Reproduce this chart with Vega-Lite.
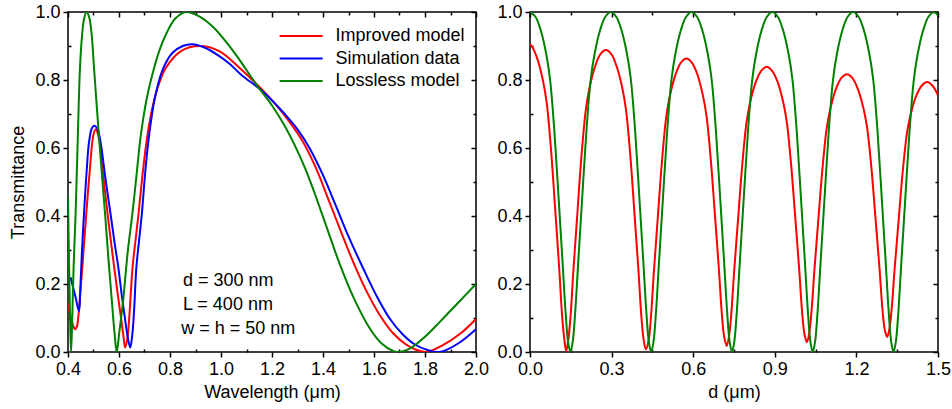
{
  "$schema": "https://vega.github.io/schema/vega-lite/v6.json",
  "padding": {"left": 9, "top": 2, "right": 0, "bottom": 0},
  "config": {
    "font": "Liberation Sans",
    "view": {"stroke": "black", "strokeWidth": 1.5},
    "axis": {"grid": false, "domain": false, "tickColor": "black", "tickWidth": 1.5, "labelColor": "black", "labelFont": "Liberation Sans", "labelFontSize": 18, "titleFont": "Liberation Sans", "titleFontSize": 18, "titleFontWeight": "normal", "titleColor": "black", "labelOverlap": false, "labelFlush": false, "labelBound": false}
  },
  "datasets": {
    "left": [
      {"wl":0.400,"T":0.145,"series":"Improved model"},{"wl":0.410,"T":0.105,"series":"Improved model"},{"wl":0.420,"T":0.078,"series":"Improved model"},{"wl":0.427,"T":0.067,"series":"Improved model"},{"wl":0.435,"T":0.075,"series":"Improved model"},{"wl":0.440,"T":0.10,"series":"Improved model"},{"wl":0.448,"T":0.17,"series":"Improved model"},{"wl":0.456,"T":0.248,"series":"Improved model"},{"wl":0.464,"T":0.33,"series":"Improved model"},{"wl":0.472,"T":0.41,"series":"Improved model"},{"wl":0.485,"T":0.53,"series":"Improved model"},{"wl":0.500,"T":0.64,"series":"Improved model"},{"wl":0.509,"T":0.655,"series":"Improved model"},{"wl":0.522,"T":0.625,"series":"Improved model"},{"wl":0.535,"T":0.54,"series":"Improved model"},{"wl":0.550,"T":0.44,"series":"Improved model"},{"wl":0.565,"T":0.345,"series":"Improved model"},{"wl":0.581,"T":0.25,"series":"Improved model"},{"wl":0.595,"T":0.17,"series":"Improved model"},{"wl":0.608,"T":0.10,"series":"Improved model"},{"wl":0.617,"T":0.05,"series":"Improved model"},{"wl":0.624,"T":0.013,"series":"Improved model"},{"wl":0.632,"T":0.035,"series":"Improved model"},{"wl":0.640,"T":0.10,"series":"Improved model"},{"wl":0.653,"T":0.248,"series":"Improved model"},{"wl":0.665,"T":0.33,"series":"Improved model"},{"wl":0.677,"T":0.41,"series":"Improved model"},{"wl":0.695,"T":0.54,"series":"Improved model"},{"wl":0.712,"T":0.64,"series":"Improved model"},{"wl":0.733,"T":0.725,"series":"Improved model"},{"wl":0.755,"T":0.785,"series":"Improved model"},{"wl":0.784,"T":0.836,"series":"Improved model"},{"wl":0.843,"T":0.885,"series":"Improved model"},{"wl":0.915,"T":0.90,"series":"Improved model"},{"wl":0.993,"T":0.885,"series":"Improved model"},{"wl":1.072,"T":0.836,"series":"Improved model"},{"wl":1.15,"T":0.78,"series":"Improved model"},{"wl":1.20,"T":0.74,"series":"Improved model"},{"wl":1.25,"T":0.695,"series":"Improved model"},{"wl":1.32,"T":0.62,"series":"Improved model"},{"wl":1.37,"T":0.545,"series":"Improved model"},{"wl":1.418,"T":0.455,"series":"Improved model"},{"wl":1.47,"T":0.355,"series":"Improved model"},{"wl":1.524,"T":0.255,"series":"Improved model"},{"wl":1.58,"T":0.165,"series":"Improved model"},{"wl":1.63,"T":0.10,"series":"Improved model"},{"wl":1.675,"T":0.055,"series":"Improved model"},{"wl":1.72,"T":0.025,"series":"Improved model"},{"wl":1.76,"T":0.008,"series":"Improved model"},{"wl":1.806,"T":0.0,"series":"Improved model"},{"wl":1.87,"T":0.02,"series":"Improved model"},{"wl":1.94,"T":0.055,"series":"Improved model"},{"wl":2.00,"T":0.097,"series":"Improved model"},
      {"wl":0.410,"T":0.22,"series":"Simulation data"},{"wl":0.420,"T":0.19,"series":"Simulation data"},{"wl":0.430,"T":0.16,"series":"Simulation data"},{"wl":0.443,"T":0.12,"series":"Simulation data"},{"wl":0.448,"T":0.18,"series":"Simulation data"},{"wl":0.455,"T":0.30,"series":"Simulation data"},{"wl":0.463,"T":0.41,"series":"Simulation data"},{"wl":0.473,"T":0.53,"series":"Simulation data"},{"wl":0.483,"T":0.62,"series":"Simulation data"},{"wl":0.495,"T":0.66,"series":"Simulation data"},{"wl":0.506,"T":0.665,"series":"Simulation data"},{"wl":0.516,"T":0.655,"series":"Simulation data"},{"wl":0.526,"T":0.625,"series":"Simulation data"},{"wl":0.547,"T":0.51,"series":"Simulation data"},{"wl":0.568,"T":0.40,"series":"Simulation data"},{"wl":0.583,"T":0.32,"series":"Simulation data"},{"wl":0.598,"T":0.245,"series":"Simulation data"},{"wl":0.612,"T":0.16,"series":"Simulation data"},{"wl":0.624,"T":0.095,"series":"Simulation data"},{"wl":0.635,"T":0.04,"series":"Simulation data"},{"wl":0.644,"T":0.013,"series":"Simulation data"},{"wl":0.652,"T":0.05,"series":"Simulation data"},{"wl":0.659,"T":0.12,"series":"Simulation data"},{"wl":0.668,"T":0.248,"series":"Simulation data"},{"wl":0.679,"T":0.33,"series":"Simulation data"},{"wl":0.690,"T":0.41,"series":"Simulation data"},{"wl":0.703,"T":0.53,"series":"Simulation data"},{"wl":0.716,"T":0.625,"series":"Simulation data"},{"wl":0.740,"T":0.745,"series":"Simulation data"},{"wl":0.771,"T":0.83,"series":"Simulation data"},{"wl":0.810,"T":0.88,"series":"Simulation data"},{"wl":0.850,"T":0.90,"series":"Simulation data"},{"wl":0.888,"T":0.905,"series":"Simulation data"},{"wl":0.930,"T":0.897,"series":"Simulation data"},{"wl":0.980,"T":0.877,"series":"Simulation data"},{"wl":1.030,"T":0.85,"series":"Simulation data"},{"wl":1.080,"T":0.815,"series":"Simulation data"},{"wl":1.150,"T":0.775,"series":"Simulation data"},{"wl":1.20,"T":0.74,"series":"Simulation data"},{"wl":1.25,"T":0.70,"series":"Simulation data"},{"wl":1.30,"T":0.655,"series":"Simulation data"},{"wl":1.347,"T":0.60,"series":"Simulation data"},{"wl":1.40,"T":0.52,"series":"Simulation data"},{"wl":1.445,"T":0.44,"series":"Simulation data"},{"wl":1.50,"T":0.34,"series":"Simulation data"},{"wl":1.555,"T":0.25,"series":"Simulation data"},{"wl":1.61,"T":0.165,"series":"Simulation data"},{"wl":1.66,"T":0.10,"series":"Simulation data"},{"wl":1.712,"T":0.052,"series":"Simulation data"},{"wl":1.76,"T":0.022,"series":"Simulation data"},{"wl":1.81,"T":0.006,"series":"Simulation data"},{"wl":1.858,"T":0.0,"series":"Simulation data"},{"wl":1.93,"T":0.025,"series":"Simulation data"},{"wl":2.00,"T":0.067,"series":"Simulation data"},
      {"wl":0.400,"T":0.46,"series":"Lossless model"},{"wl":0.405,"T":0.22,"series":"Lossless model"},{"wl":0.409,"T":0.07,"series":"Lossless model"},{"wl":0.412,"T":0.0,"series":"Lossless model"},{"wl":0.416,"T":0.08,"series":"Lossless model"},{"wl":0.422,"T":0.25,"series":"Lossless model"},{"wl":0.430,"T":0.41,"series":"Lossless model"},{"wl":0.438,"T":0.62,"series":"Lossless model"},{"wl":0.447,"T":0.836,"series":"Lossless model"},{"wl":0.455,"T":0.93,"series":"Lossless model"},{"wl":0.463,"T":0.98,"series":"Lossless model"},{"wl":0.473,"T":1.0,"series":"Lossless model"},{"wl":0.483,"T":0.985,"series":"Lossless model"},{"wl":0.492,"T":0.94,"series":"Lossless model"},{"wl":0.502,"T":0.836,"series":"Lossless model"},{"wl":0.515,"T":0.70,"series":"Lossless model"},{"wl":0.530,"T":0.55,"series":"Lossless model"},{"wl":0.545,"T":0.41,"series":"Lossless model"},{"wl":0.560,"T":0.26,"series":"Lossless model"},{"wl":0.572,"T":0.15,"series":"Lossless model"},{"wl":0.582,"T":0.06,"series":"Lossless model"},{"wl":0.591,"T":0.0,"series":"Lossless model"},{"wl":0.600,"T":0.05,"series":"Lossless model"},{"wl":0.608,"T":0.10,"series":"Lossless model"},{"wl":0.616,"T":0.15,"series":"Lossless model"},{"wl":0.635,"T":0.30,"series":"Lossless model"},{"wl":0.653,"T":0.41,"series":"Lossless model"},{"wl":0.670,"T":0.53,"series":"Lossless model"},{"wl":0.686,"T":0.64,"series":"Lossless model"},{"wl":0.710,"T":0.75,"series":"Lossless model"},{"wl":0.738,"T":0.836,"series":"Lossless model"},{"wl":0.760,"T":0.89,"series":"Lossless model"},{"wl":0.784,"T":0.934,"series":"Lossless model"},{"wl":0.820,"T":0.98,"series":"Lossless model"},{"wl":0.862,"T":1.0,"series":"Lossless model"},{"wl":0.920,"T":0.985,"series":"Lossless model"},{"wl":0.970,"T":0.955,"series":"Lossless model"},{"wl":1.02,"T":0.912,"series":"Lossless model"},{"wl":1.07,"T":0.862,"series":"Lossless model"},{"wl":1.11,"T":0.818,"series":"Lossless model"},{"wl":1.15,"T":0.775,"series":"Lossless model"},{"wl":1.20,"T":0.725,"series":"Lossless model"},{"wl":1.25,"T":0.665,"series":"Lossless model"},{"wl":1.288,"T":0.61,"series":"Lossless model"},{"wl":1.33,"T":0.54,"series":"Lossless model"},{"wl":1.373,"T":0.455,"series":"Lossless model"},{"wl":1.42,"T":0.355,"series":"Lossless model"},{"wl":1.465,"T":0.26,"series":"Lossless model"},{"wl":1.52,"T":0.16,"series":"Lossless model"},{"wl":1.583,"T":0.07,"series":"Lossless model"},{"wl":1.63,"T":0.025,"series":"Lossless model"},{"wl":1.675,"T":0.003,"series":"Lossless model"},{"wl":1.69,"T":0.0,"series":"Lossless model"},{"wl":1.74,"T":0.01,"series":"Lossless model"},{"wl":1.80,"T":0.045,"series":"Lossless model"},{"wl":1.86,"T":0.09,"series":"Lossless model"},{"wl":1.93,"T":0.145,"series":"Lossless model"},{"wl":2.00,"T":0.20,"series":"Lossless model"}
    ],
    "notes": [
      {"wl":0.851,"T":0.209,"label":"d = 300 nm"},
      {"wl":0.851,"T":0.138,"label":"L = 400 nm"},
      {"wl":0.844,"T":0.068,"label":"w = h = 50 nm"}
    ],
    "right": [
      {"d":0,"T":0.905,"series":"Improved model"},{"d":0.008,"T":0.898,"series":"Improved model"},{"d":0.028,"T":0.860,"series":"Improved model"},{"d":0.048,"T":0.797,"series":"Improved model"},{"d":0.062,"T":0.729,"series":"Improved model"},{"d":0.078,"T":0.588,"series":"Improved model"},{"d":0.093,"T":0.415,"series":"Improved model"},{"d":0.108,"T":0.239,"series":"Improved model"},{"d":0.118,"T":0.107,"series":"Improved model"},{"d":0.127,"T":0.032,"series":"Improved model"},{"d":0.133,"T":0.003,"series":"Improved model"},
      {"d":0.140,"T":0.030,"series":"Improved model"},{"d":0.149,"T":0.104,"series":"Improved model"},{"d":0.159,"T":0.233,"series":"Improved model"},{"d":0.174,"T":0.406,"series":"Improved model"},{"d":0.189,"T":0.574,"series":"Improved model"},{"d":0.205,"T":0.711,"series":"Improved model"},{"d":0.219,"T":0.778,"series":"Improved model"},{"d":0.239,"T":0.839,"series":"Improved model"},{"d":0.259,"T":0.876,"series":"Improved model"},{"d":0.279,"T":0.888,"series":"Improved model"},
      {"d":0.299,"T":0.876,"series":"Improved model"},{"d":0.319,"T":0.839,"series":"Improved model"},{"d":0.339,"T":0.778,"series":"Improved model"},{"d":0.353,"T":0.712,"series":"Improved model"},{"d":0.369,"T":0.576,"series":"Improved model"},{"d":0.384,"T":0.408,"series":"Improved model"},{"d":0.399,"T":0.237,"series":"Improved model"},{"d":0.409,"T":0.109,"series":"Improved model"},{"d":0.418,"T":0.035,"series":"Improved model"},{"d":0.426,"T":0.008,"series":"Improved model"},
      {"d":0.436,"T":0.034,"series":"Improved model"},{"d":0.445,"T":0.106,"series":"Improved model"},{"d":0.455,"T":0.230,"series":"Improved model"},{"d":0.470,"T":0.397,"series":"Improved model"},{"d":0.485,"T":0.559,"series":"Improved model"},{"d":0.501,"T":0.692,"series":"Improved model"},{"d":0.515,"T":0.756,"series":"Improved model"},{"d":0.535,"T":0.816,"series":"Improved model"},{"d":0.555,"T":0.851,"series":"Improved model"},{"d":0.575,"T":0.863,"series":"Improved model"},
      {"d":0.595,"T":0.851,"series":"Improved model"},{"d":0.615,"T":0.817,"series":"Improved model"},{"d":0.635,"T":0.757,"series":"Improved model"},{"d":0.649,"T":0.694,"series":"Improved model"},{"d":0.665,"T":0.563,"series":"Improved model"},{"d":0.680,"T":0.402,"series":"Improved model"},{"d":0.695,"T":0.238,"series":"Improved model"},{"d":0.705,"T":0.115,"series":"Improved model"},{"d":0.714,"T":0.044,"series":"Improved model"},{"d":0.723,"T":0.018,"series":"Improved model"},
      {"d":0.731,"T":0.043,"series":"Improved model"},{"d":0.740,"T":0.112,"series":"Improved model"},{"d":0.750,"T":0.231,"series":"Improved model"},{"d":0.765,"T":0.391,"series":"Improved model"},{"d":0.780,"T":0.547,"series":"Improved model"},{"d":0.796,"T":0.675,"series":"Improved model"},{"d":0.810,"T":0.737,"series":"Improved model"},{"d":0.830,"T":0.794,"series":"Improved model"},{"d":0.850,"T":0.827,"series":"Improved model"},{"d":0.870,"T":0.839,"series":"Improved model"},
      {"d":0.890,"T":0.827,"series":"Improved model"},{"d":0.910,"T":0.795,"series":"Improved model"},{"d":0.930,"T":0.738,"series":"Improved model"},{"d":0.944,"T":0.677,"series":"Improved model"},{"d":0.960,"T":0.551,"series":"Improved model"},{"d":0.975,"T":0.398,"series":"Improved model"},{"d":0.990,"T":0.240,"series":"Improved model"},{"d":1.000,"T":0.122,"series":"Improved model"},{"d":1.009,"T":0.053,"series":"Improved model"},{"d":1.018,"T":0.029,"series":"Improved model"},
      {"d":1.026,"T":0.053,"series":"Improved model"},{"d":1.035,"T":0.120,"series":"Improved model"},{"d":1.045,"T":0.234,"series":"Improved model"},{"d":1.060,"T":0.388,"series":"Improved model"},{"d":1.075,"T":0.537,"series":"Improved model"},{"d":1.091,"T":0.659,"series":"Improved model"},{"d":1.105,"T":0.718,"series":"Improved model"},{"d":1.125,"T":0.774,"series":"Improved model"},{"d":1.145,"T":0.806,"series":"Improved model"},{"d":1.165,"T":0.817,"series":"Improved model"},
      {"d":1.185,"T":0.806,"series":"Improved model"},{"d":1.205,"T":0.774,"series":"Improved model"},{"d":1.225,"T":0.720,"series":"Improved model"},{"d":1.239,"T":0.662,"series":"Improved model"},{"d":1.255,"T":0.543,"series":"Improved model"},{"d":1.270,"T":0.396,"series":"Improved model"},{"d":1.285,"T":0.245,"series":"Improved model"},{"d":1.295,"T":0.133,"series":"Improved model"},{"d":1.304,"T":0.067,"series":"Improved model"},{"d":1.313,"T":0.044,"series":"Improved model"},
      {"d":1.321,"T":0.066,"series":"Improved model"},{"d":1.330,"T":0.130,"series":"Improved model"},{"d":1.340,"T":0.239,"series":"Improved model"},{"d":1.355,"T":0.385,"series":"Improved model"},{"d":1.370,"T":0.528,"series":"Improved model"},{"d":1.386,"T":0.644,"series":"Improved model"},{"d":1.400,"T":0.701,"series":"Improved model"},{"d":1.420,"T":0.753,"series":"Improved model"},{"d":1.440,"T":0.783,"series":"Improved model"},{"d":1.460,"T":0.794,"series":"Improved model"},{"d":1.480,"T":0.783,"series":"Improved model"},{"d":1.500,"T":0.755,"series":"Improved model"},
      {"d":0,"T":1.0,"series":"Lossless model"},{"d":0.02,"T":0.986,"series":"Lossless model"},{"d":0.04,"T":0.945,"series":"Lossless model"},{"d":0.06,"T":0.875,"series":"Lossless model"},{"d":0.074,"T":0.80,"series":"Lossless model"},{"d":0.09,"T":0.645,"series":"Lossless model"},{"d":0.105,"T":0.455,"series":"Lossless model"},{"d":0.12,"T":0.26,"series":"Lossless model"},{"d":0.131,"T":0.115,"series":"Lossless model"},{"d":0.14,"T":0.03,"series":"Lossless model"},{"d":0.1485,"T":0.0,"series":"Lossless model"},
      {"d":0.157,"T":0.03,"series":"Lossless model"},{"d":0.166,"T":0.115,"series":"Lossless model"},{"d":0.177,"T":0.26,"series":"Lossless model"},{"d":0.192,"T":0.455,"series":"Lossless model"},{"d":0.207,"T":0.645,"series":"Lossless model"},{"d":0.223,"T":0.80,"series":"Lossless model"},{"d":0.237,"T":0.875,"series":"Lossless model"},{"d":0.257,"T":0.945,"series":"Lossless model"},{"d":0.277,"T":0.986,"series":"Lossless model"},{"d":0.297,"T":1.0,"series":"Lossless model"},
      {"d":0.317,"T":0.986,"series":"Lossless model"},{"d":0.337,"T":0.945,"series":"Lossless model"},{"d":0.357,"T":0.875,"series":"Lossless model"},{"d":0.371,"T":0.80,"series":"Lossless model"},{"d":0.387,"T":0.645,"series":"Lossless model"},{"d":0.402,"T":0.455,"series":"Lossless model"},{"d":0.417,"T":0.26,"series":"Lossless model"},{"d":0.428,"T":0.115,"series":"Lossless model"},{"d":0.437,"T":0.03,"series":"Lossless model"},{"d":0.4455,"T":0.0,"series":"Lossless model"},
      {"d":0.454,"T":0.03,"series":"Lossless model"},{"d":0.463,"T":0.115,"series":"Lossless model"},{"d":0.474,"T":0.26,"series":"Lossless model"},{"d":0.489,"T":0.455,"series":"Lossless model"},{"d":0.504,"T":0.645,"series":"Lossless model"},{"d":0.520,"T":0.80,"series":"Lossless model"},{"d":0.534,"T":0.875,"series":"Lossless model"},{"d":0.554,"T":0.945,"series":"Lossless model"},{"d":0.574,"T":0.986,"series":"Lossless model"},{"d":0.594,"T":1.0,"series":"Lossless model"},
      {"d":0.614,"T":0.986,"series":"Lossless model"},{"d":0.634,"T":0.945,"series":"Lossless model"},{"d":0.654,"T":0.875,"series":"Lossless model"},{"d":0.668,"T":0.80,"series":"Lossless model"},{"d":0.684,"T":0.645,"series":"Lossless model"},{"d":0.699,"T":0.455,"series":"Lossless model"},{"d":0.714,"T":0.26,"series":"Lossless model"},{"d":0.725,"T":0.115,"series":"Lossless model"},{"d":0.734,"T":0.03,"series":"Lossless model"},{"d":0.7425,"T":0.0,"series":"Lossless model"},
      {"d":0.751,"T":0.03,"series":"Lossless model"},{"d":0.760,"T":0.115,"series":"Lossless model"},{"d":0.771,"T":0.26,"series":"Lossless model"},{"d":0.786,"T":0.455,"series":"Lossless model"},{"d":0.801,"T":0.645,"series":"Lossless model"},{"d":0.817,"T":0.80,"series":"Lossless model"},{"d":0.831,"T":0.875,"series":"Lossless model"},{"d":0.851,"T":0.945,"series":"Lossless model"},{"d":0.871,"T":0.986,"series":"Lossless model"},{"d":0.891,"T":1.0,"series":"Lossless model"},
      {"d":0.911,"T":0.986,"series":"Lossless model"},{"d":0.931,"T":0.945,"series":"Lossless model"},{"d":0.951,"T":0.875,"series":"Lossless model"},{"d":0.965,"T":0.80,"series":"Lossless model"},{"d":0.981,"T":0.645,"series":"Lossless model"},{"d":0.996,"T":0.455,"series":"Lossless model"},{"d":1.011,"T":0.26,"series":"Lossless model"},{"d":1.022,"T":0.115,"series":"Lossless model"},{"d":1.031,"T":0.03,"series":"Lossless model"},{"d":1.0395,"T":0.0,"series":"Lossless model"},
      {"d":1.048,"T":0.03,"series":"Lossless model"},{"d":1.057,"T":0.115,"series":"Lossless model"},{"d":1.068,"T":0.26,"series":"Lossless model"},{"d":1.083,"T":0.455,"series":"Lossless model"},{"d":1.098,"T":0.645,"series":"Lossless model"},{"d":1.114,"T":0.80,"series":"Lossless model"},{"d":1.128,"T":0.875,"series":"Lossless model"},{"d":1.148,"T":0.945,"series":"Lossless model"},{"d":1.168,"T":0.986,"series":"Lossless model"},{"d":1.188,"T":1.0,"series":"Lossless model"},
      {"d":1.208,"T":0.986,"series":"Lossless model"},{"d":1.228,"T":0.945,"series":"Lossless model"},{"d":1.248,"T":0.875,"series":"Lossless model"},{"d":1.262,"T":0.80,"series":"Lossless model"},{"d":1.278,"T":0.645,"series":"Lossless model"},{"d":1.293,"T":0.455,"series":"Lossless model"},{"d":1.308,"T":0.26,"series":"Lossless model"},{"d":1.319,"T":0.115,"series":"Lossless model"},{"d":1.328,"T":0.03,"series":"Lossless model"},{"d":1.3365,"T":0.0,"series":"Lossless model"},
      {"d":1.345,"T":0.03,"series":"Lossless model"},{"d":1.354,"T":0.115,"series":"Lossless model"},{"d":1.365,"T":0.26,"series":"Lossless model"},{"d":1.380,"T":0.455,"series":"Lossless model"},{"d":1.395,"T":0.645,"series":"Lossless model"},{"d":1.411,"T":0.80,"series":"Lossless model"},{"d":1.425,"T":0.875,"series":"Lossless model"},{"d":1.445,"T":0.945,"series":"Lossless model"},{"d":1.465,"T":0.986,"series":"Lossless model"},{"d":1.485,"T":1.0,"series":"Lossless model"},{"d":1.5,"T":0.99,"series":"Lossless model"}
    ]
  },
  "bounds": "flush",
  "spacing": 54,
  "resolve": {"legend": {"color": "independent"}},
  "hconcat": [
    {
      "width": 408,
      "height": 340,
      "resolve": {"axis": {"x": "independent", "y": "independent"}},
      "layer": [
        {
          "data": {"name": "left"},
          "mark": {"type": "line", "interpolate": "catmull-rom", "strokeWidth": 2, "clip": true},
          "encoding": {
            "x": {"field": "wl", "type": "quantitative", "scale": {"domain": [0.4, 2.0], "nice": false, "zero": false},
              "axis": {"title": "Wavelength (μm)", "values": [0.4,0.5,0.6,0.7,0.8,0.9,1.0,1.1,1.2,1.3,1.4,1.5,1.6,1.7,1.8,1.9,2.0],
                "tickSize": {"condition": {"test": "round(datum.value*10) % 2 == 0", "value": 5}, "value": -3},
                "labelExpr": "round(datum.value*10) % 2 == 0 ? format(datum.value, '.1f') : ''",
                "labelPadding": 3, "titlePadding": 5}},
            "y": {"field": "T", "type": "quantitative", "scale": {"domain": [0, 1], "nice": false},
              "axis": {"title": "Transmittance", "values": [0,0.1,0.2,0.3,0.4,0.5,0.6,0.7,0.8,0.9,1.0],
                "tickSize": {"condition": {"test": "round(datum.value*10) % 2 == 0", "value": 5}, "value": -3},
                "labelExpr": "round(datum.value*10) % 2 == 0 ? format(datum.value, '.1f') : ''",
                "labelPadding": 3, "titlePadding": 7}},
            "color": {"field": "series", "type": "nominal",
              "scale": {"domain": ["Improved model", "Simulation data", "Lossless model"], "range": ["#ff0000", "#0000ff", "#008000"]},
              "legend": {"title": null, "orient": "none", "legendX": 208, "legendY": 15, "padding": 0,
                "symbolType": "M-1,0H7", "symbolSize": 115.6, "symbolStrokeWidth": 2,
                "labelFont": "Liberation Sans", "labelFontSize": 18, "labelColor": "black", "labelOffset": 41.5, "rowPadding": 4.5}}
          }
        },
        {
          "data": {"name": "notes"},
          "mark": {"type": "text", "align": "left", "baseline": "middle", "fontSize": 18, "font": "Liberation Sans", "color": "black"},
          "encoding": {
            "x": {"field": "wl", "type": "quantitative",
              "axis": {"orient": "top", "title": null, "labels": false, "values": [0.4,0.5,0.6,0.7,0.8,0.9,1.0,1.1,1.2,1.3,1.4,1.5,1.6,1.7,1.8,1.9,2.0],
                "tickSize": {"condition": {"test": "round(datum.value*10) % 2 == 0", "value": -5}, "value": -3}}},
            "y": {"field": "T", "type": "quantitative",
              "axis": {"orient": "right", "title": null, "labels": false, "values": [0,0.1,0.2,0.3,0.4,0.5,0.6,0.7,0.8,0.9,1.0],
                "tickSize": {"condition": {"test": "round(datum.value*10) % 2 == 0", "value": -5}, "value": -3}}},
            "text": {"field": "label"}
          }
        }
      ]
    },
    {
      "width": 408,
      "height": 340,
      "data": {"name": "right"},
      "resolve": {"axis": {"x": "independent", "y": "independent"}},
      "layer": [
        {
          "transform": [{"filter": "datum.series == 'Improved model'"}],
          "mark": {"type": "line", "interpolate": "catmull-rom", "strokeWidth": 2, "clip": true, "color": "#ff0000"},
          "encoding": {
            "x": {"field": "d", "type": "quantitative", "scale": {"domain": [0, 1.5], "nice": false},
              "axis": {"title": "d (μm)", "values": [0,0.15,0.3,0.45,0.6,0.75,0.9,1.05,1.2,1.35,1.5],
                "tickSize": {"condition": {"test": "round(datum.value/0.15) % 2 == 0", "value": 5}, "value": -3},
                "labelExpr": "round(datum.value/0.15) % 2 == 0 ? format(datum.value, '.1f') : ''",
                "labelPadding": 3, "titlePadding": 5}},
            "y": {"field": "T", "type": "quantitative", "scale": {"domain": [0, 1], "nice": false},
              "axis": {"title": null, "values": [0,0.1,0.2,0.3,0.4,0.5,0.6,0.7,0.8,0.9,1.0],
                "tickSize": {"condition": {"test": "round(datum.value*10) % 2 == 0", "value": 5}, "value": -3},
                "labelExpr": "round(datum.value*10) % 2 == 0 ? format(datum.value, '.1f') : ''",
                "labelPadding": 3}}
          }
        },
        {
          "transform": [{"filter": "datum.series == 'Lossless model'"}],
          "mark": {"type": "line", "interpolate": "catmull-rom", "strokeWidth": 2, "clip": true, "color": "#008000"},
          "encoding": {
            "x": {"field": "d", "type": "quantitative",
              "axis": {"orient": "top", "title": null, "labels": false, "values": [0,0.15,0.3,0.45,0.6,0.75,0.9,1.05,1.2,1.35,1.5],
                "tickSize": {"condition": {"test": "round(datum.value/0.15) % 2 == 0", "value": -5}, "value": -3}}},
            "y": {"field": "T", "type": "quantitative",
              "axis": {"orient": "right", "title": null, "labels": false, "values": [0,0.1,0.2,0.3,0.4,0.5,0.6,0.7,0.8,0.9,1.0],
                "tickSize": {"condition": {"test": "round(datum.value*10) % 2 == 0", "value": -5}, "value": -3}}}
          }
        }
      ]
    }
  ]
}
